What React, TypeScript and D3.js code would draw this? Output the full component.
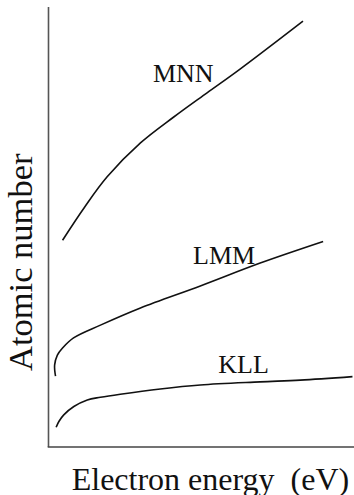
import React from "react";
import * as d3 from "d3";

// Auger transition energy vs atomic number (schematic, arbitrary units 0–100)
const kllEnergy = [2.5, 3.4, 5.0, 8.3, 12.7, 17.0, 23.5, 36.6, 49.7, 69.3, 82.4, 99.5];
const kllZ = [4.5, 5.8, 7.3, 9.2, 10.7, 11.3, 12.0, 13.2, 14.1, 14.8, 15.2, 16.0];

const lmmEnergy = [2.3, 2.0, 2.9, 4.6, 8.2, 17.0, 30.1, 49.7, 69.3, 89.9];
const lmmZ = [16.1, 18.6, 20.9, 22.5, 24.8, 27.7, 31.6, 36.6, 41.8, 46.7];

const mnnEnergy = [4.6, 11.8, 19.2, 30.1, 41.0, 51.9, 62.7, 83.3];
const mnnZ = [47.0, 54.5, 61.4, 69.1, 75.0, 80.5, 85.9, 96.8];

const seriesNames = ["KLL", "LMM", "MNN"];
const labelEnergy = [55.6, 47.3, 34.2];
const labelZ = [16.9, 41.6, 82.9];

const xTitle = "Electron energy  (eV)";
const yTitle = "Atomic number";

const W = 354;
const H = 495;
const left = 48.5;
const right = 354;
const top = 7;
const bottom = 447;

const FONT = "'Liberation Serif', 'Times New Roman', serif";

export default function App() {
  const x = d3.scaleLinear().domain([0, 100]).range([left, right]);
  const y = d3.scaleLinear().domain([0, 100]).range([bottom, top]);

  const line = d3
    .line<[number, number]>()
    .x((d) => x(d[0]))
    .y((d) => y(d[1]))
    .curve(d3.curveCatmullRom.alpha(0.5));

  const series = [
    d3.zip(kllEnergy, kllZ) as [number, number][],
    d3.zip(lmmEnergy, lmmZ) as [number, number][],
    d3.zip(mnnEnergy, mnnZ) as [number, number][],
  ];

  return (
    <svg
      width={W}
      height={H}
      style={{ position: "absolute", left: 0, top: 0, background: "#fff" }}
      fontFamily={FONT}
    >
      <rect width={W} height={H} fill="#fff" />
      {/* axes */}
      <line x1={left} x2={left} y1={top} y2={bottom} stroke="#555" strokeWidth={1.6} />
      <line x1={left - 0.8} x2={right} y1={bottom} y2={bottom} stroke="#444" strokeWidth={1.6} />

      {/* curves */}
      {series.map((pts, i) => (
        <path key={seriesNames[i]} d={line(pts) ?? ""} fill="none" stroke="#111" strokeWidth={1.6} />
      ))}

      {/* curve labels */}
      {seriesNames.map((name, i) => (
        <text key={name} x={x(labelEnergy[i])} y={y(labelZ[i])} fontSize={26} fill="#111">
          {name}
        </text>
      ))}

      {/* axis titles */}
      <text x={71.7} y={489.5} fontSize={32} fill="#111" style={{ whiteSpace: "pre" }}>
        {xTitle}
      </text>
      <text transform={`translate(32, 371) rotate(-90)`} x={0} y={0} fontSize={34.5} fill="#111">
        {yTitle}
      </text>
    </svg>
  );
}
